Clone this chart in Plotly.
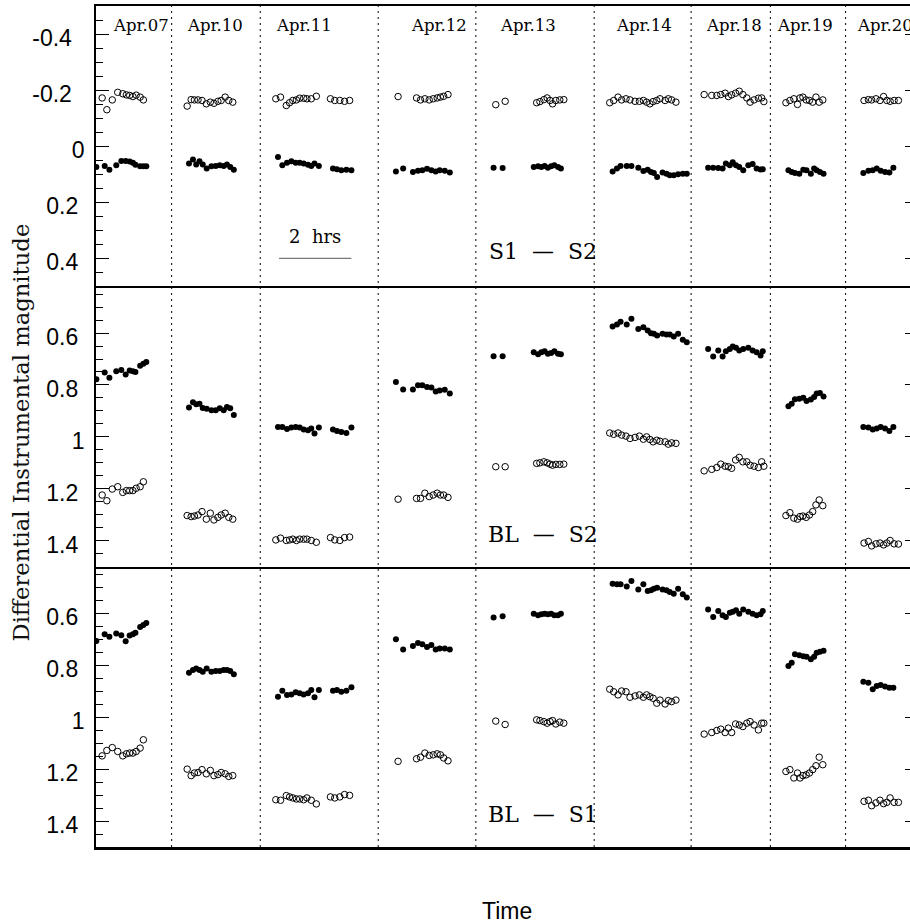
import plotly.graph_objects as go
from plotly.subplots import make_subplots

# ---------------------------------------------------------------------------
# Observing nights and their time windows (hours on a compressed time axis)
# ---------------------------------------------------------------------------
NIGHTS = ["Apr.07", "Apr.10", "Apr.11", "Apr.12", "Apr.13",
          "Apr.14", "Apr.18", "Apr.19", "Apr.20"]
NIGHT_LABEL_X = [1.245, 3.29, 5.74, 9.47, 11.95, 15.16, 17.63, 19.61, 21.81]
NIGHT_BOUNDS = [2.09, 4.54, 7.80, 10.50, 13.77, 16.45, 18.64, 20.72]

# Observation times, filled-symbol series (one list per night)
T_FILLED = [
    [0.01, 0.24, 0.37, 0.56, 0.70, 0.82, 0.93, 1.02, 1.09, 1.22, 1.31, 1.39],
    [2.57, 2.68, 2.77, 2.86, 2.95, 3.06, 3.19, 3.31, 3.42, 3.53, 3.62, 3.71, 3.81],
    [5.03, 5.15, 5.28, 5.40, 5.52, 5.63, 5.74, 5.86, 5.95, 6.04, 6.16, 6.55, 6.66, 6.78, 6.92, 7.06],
    [8.29, 8.49, 8.76, 8.90, 9.02, 9.15, 9.27, 9.39, 9.50, 9.64, 9.78],
    [10.99, 11.24, 12.10, 12.22, 12.31, 12.40, 12.49, 12.58, 12.67, 12.77, 12.85],
    [14.28, 14.40, 14.50, 14.67, 14.80, 14.99, 15.13, 15.25, 15.34, 15.42, 15.51, 15.66, 15.77, 15.86, 15.97, 16.09, 16.22, 16.33],
    [16.92, 17.06, 17.20, 17.32, 17.41, 17.52, 17.60, 17.69, 17.78, 17.89, 18.03, 18.15, 18.26, 18.37, 18.43],
    [19.14, 19.23, 19.32, 19.44, 19.55, 19.64, 19.76, 19.85, 19.92, 20.01, 20.11],
    [21.21, 21.35, 21.47, 21.58, 21.69, 21.81, 21.93, 22.04],
]

# Observation times, open-symbol series (one list per night)
T_OPEN = [
    [0.17, 0.30, 0.45, 0.60, 0.74, 0.84, 0.93, 1.02, 1.11, 1.22, 1.31],
    [2.52, 2.63, 2.72, 2.82, 2.93, 3.05, 3.16, 3.26, 3.37, 3.46, 3.57, 3.67, 3.78],
    [4.97, 5.10, 5.26, 5.35, 5.44, 5.54, 5.63, 5.74, 5.83, 5.95, 6.09, 6.48, 6.60, 6.74, 6.87, 7.01],
    [8.35, 8.86, 8.97, 9.09, 9.21, 9.32, 9.43, 9.52, 9.61, 9.73],
    [11.05, 11.31, 12.18, 12.27, 12.38, 12.47, 12.55, 12.62, 12.71, 12.82, 12.93],
    [14.20, 14.31, 14.43, 14.53, 14.65, 14.76, 14.90, 15.02, 15.13, 15.22, 15.31, 15.40, 15.50, 15.59, 15.73, 15.82, 15.91, 16.03],
    [16.81, 17.02, 17.16, 17.27, 17.39, 17.48, 17.57, 17.68, 17.78, 17.88, 17.99, 18.08, 18.19, 18.31, 18.40, 18.46],
    [19.07, 19.18, 19.29, 19.39, 19.46, 19.54, 19.63, 19.72, 19.81, 19.90, 19.99, 20.09],
    [21.23, 21.35, 21.44, 21.56, 21.67, 21.77, 21.86, 21.95, 22.06, 22.18],
]

# ---------------------------------------------------------------------------
# Differential magnitudes: S1 - S2
# ---------------------------------------------------------------------------
S1S2_FILLED = [
    [0.074, 0.071, 0.084, 0.068, 0.053, 0.053, 0.055, 0.059, 0.066, 0.072, 0.072, 0.072],
    [0.062, 0.048, 0.065, 0.054, 0.065, 0.080, 0.072, 0.071, 0.068, 0.071, 0.065, 0.074, 0.084],
    [0.039, 0.068, 0.059, 0.054, 0.059, 0.059, 0.062, 0.066, 0.071, 0.062, 0.071, 0.080, 0.082, 0.086, 0.084, 0.086],
    [0.090, 0.080, 0.092, 0.088, 0.086, 0.081, 0.086, 0.090, 0.086, 0.088, 0.094],
    [0.077, 0.078, 0.074, 0.072, 0.074, 0.071, 0.077, 0.072, 0.068, 0.074, 0.080],
    [0.090, 0.080, 0.071, 0.071, 0.071, 0.077, 0.089, 0.084, 0.092, 0.096, 0.110, 0.094, 0.098, 0.104, 0.104, 0.100, 0.098, 0.098],
    [0.077, 0.077, 0.078, 0.080, 0.062, 0.068, 0.057, 0.068, 0.074, 0.086, 0.068, 0.064, 0.080, 0.083, 0.082],
    [0.086, 0.092, 0.096, 0.098, 0.084, 0.086, 0.098, 0.080, 0.086, 0.092, 0.098],
    [0.096, 0.088, 0.086, 0.080, 0.088, 0.092, 0.094, 0.077],
]
S1S2_OPEN = [
    [-0.172, -0.130, -0.165, -0.192, -0.187, -0.183, -0.181, -0.177, -0.182, -0.175, -0.165],
    [-0.143, -0.166, -0.165, -0.165, -0.163, -0.151, -0.157, -0.153, -0.160, -0.163, -0.175, -0.163, -0.157],
    [-0.169, -0.175, -0.145, -0.155, -0.163, -0.165, -0.171, -0.171, -0.169, -0.169, -0.178, -0.169, -0.163, -0.163, -0.160, -0.163],
    [-0.177, -0.172, -0.165, -0.169, -0.165, -0.169, -0.172, -0.175, -0.178, -0.184],
    [-0.148, -0.160, -0.155, -0.159, -0.166, -0.172, -0.163, -0.151, -0.163, -0.165, -0.166],
    [-0.155, -0.163, -0.175, -0.165, -0.169, -0.165, -0.160, -0.160, -0.163, -0.157, -0.151, -0.159, -0.163, -0.169, -0.163, -0.169, -0.165, -0.157],
    [-0.184, -0.181, -0.181, -0.184, -0.189, -0.177, -0.183, -0.189, -0.196, -0.184, -0.172, -0.157, -0.165, -0.171, -0.172, -0.159],
    [-0.155, -0.163, -0.169, -0.149, -0.172, -0.175, -0.165, -0.163, -0.157, -0.175, -0.157, -0.165],
    [-0.163, -0.166, -0.165, -0.169, -0.163, -0.177, -0.163, -0.160, -0.163, -0.163],
]

# ---------------------------------------------------------------------------
# Differential magnitudes: BL - S2
# ---------------------------------------------------------------------------
BLS2_FILLED = [
    [0.778, 0.752, 0.772, 0.747, 0.742, 0.760, 0.744, 0.747, 0.750, 0.726, 0.718, 0.712],
    [0.887, 0.867, 0.874, 0.872, 0.889, 0.892, 0.897, 0.897, 0.890, 0.897, 0.885, 0.890, 0.916],
    [0.962, 0.962, 0.970, 0.964, 0.962, 0.964, 0.972, 0.974, 0.968, 0.987, 0.964, 0.972, 0.977, 0.981, 0.985, 0.964],
    [0.789, 0.817, 0.817, 0.801, 0.801, 0.808, 0.810, 0.825, 0.821, 0.818, 0.833],
    [0.689, 0.689, 0.674, 0.682, 0.674, 0.670, 0.680, 0.677, 0.670, 0.680, 0.682],
    [0.575, 0.567, 0.556, 0.567, 0.545, 0.584, 0.578, 0.590, 0.601, 0.603, 0.609, 0.603, 0.606, 0.606, 0.613, 0.603, 0.626, 0.635],
    [0.661, 0.690, 0.667, 0.690, 0.670, 0.661, 0.652, 0.657, 0.667, 0.661, 0.657, 0.667, 0.674, 0.686, 0.670],
    [0.882, 0.872, 0.855, 0.853, 0.849, 0.862, 0.856, 0.846, 0.833, 0.831, 0.844],
    [0.962, 0.964, 0.972, 0.968, 0.962, 0.968, 0.977, 0.962],
]
BLS2_OPEN = [
    [1.224, 1.246, 1.201, 1.192, 1.214, 1.207, 1.207, 1.207, 1.198, 1.192, 1.173],
    [1.303, 1.307, 1.305, 1.301, 1.288, 1.317, 1.294, 1.320, 1.310, 1.301, 1.294, 1.310, 1.317],
    [1.397, 1.390, 1.399, 1.397, 1.394, 1.399, 1.394, 1.394, 1.394, 1.399, 1.406, 1.388, 1.397, 1.399, 1.388, 1.386],
    [1.240, 1.237, 1.237, 1.217, 1.230, 1.224, 1.217, 1.224, 1.224, 1.233],
    [1.115, 1.115, 1.102, 1.100, 1.096, 1.100, 1.105, 1.109, 1.106, 1.106, 1.105],
    [0.985, 0.990, 0.985, 0.993, 0.997, 1.006, 1.002, 0.997, 1.009, 1.000, 1.010, 1.019, 1.013, 1.017, 1.019, 1.028, 1.023, 1.025],
    [1.131, 1.125, 1.118, 1.105, 1.113, 1.115, 1.121, 1.089, 1.079, 1.096, 1.096, 1.109, 1.113, 1.118, 1.096, 1.113],
    [1.303, 1.292, 1.313, 1.317, 1.307, 1.305, 1.310, 1.301, 1.288, 1.262, 1.243, 1.265],
    [1.409, 1.403, 1.420, 1.412, 1.409, 1.416, 1.409, 1.399, 1.412, 1.413],
]

# ---------------------------------------------------------------------------
# Differential magnitudes: BL - S1
# ---------------------------------------------------------------------------
BLS1_FILLED = [
    [0.706, 0.680, 0.690, 0.677, 0.684, 0.707, 0.685, 0.680, 0.675, 0.652, 0.645, 0.637],
    [0.829, 0.818, 0.812, 0.818, 0.825, 0.812, 0.825, 0.822, 0.822, 0.818, 0.818, 0.822, 0.834],
    [0.921, 0.898, 0.914, 0.912, 0.904, 0.908, 0.912, 0.908, 0.895, 0.923, 0.895, 0.898, 0.895, 0.902, 0.898, 0.885],
    [0.700, 0.739, 0.726, 0.714, 0.719, 0.729, 0.722, 0.739, 0.735, 0.735, 0.739],
    [0.616, 0.611, 0.601, 0.607, 0.603, 0.601, 0.603, 0.601, 0.607, 0.607, 0.601],
    [0.486, 0.488, 0.488, 0.496, 0.475, 0.508, 0.488, 0.514, 0.511, 0.505, 0.501, 0.508, 0.511, 0.518, 0.524, 0.505, 0.526, 0.539],
    [0.585, 0.614, 0.591, 0.607, 0.614, 0.598, 0.594, 0.588, 0.601, 0.585, 0.594, 0.601, 0.607, 0.603, 0.591],
    [0.803, 0.790, 0.757, 0.761, 0.765, 0.767, 0.777, 0.767, 0.752, 0.748, 0.744],
    [0.863, 0.867, 0.892, 0.880, 0.876, 0.882, 0.886, 0.886],
]
BLS1_OPEN = [
    [1.149, 1.128, 1.117, 1.132, 1.149, 1.141, 1.138, 1.138, 1.132, 1.119, 1.087],
    [1.200, 1.225, 1.215, 1.213, 1.202, 1.218, 1.205, 1.225, 1.221, 1.213, 1.218, 1.228, 1.225],
    [1.318, 1.320, 1.302, 1.307, 1.311, 1.315, 1.315, 1.318, 1.311, 1.320, 1.334, 1.307, 1.311, 1.307, 1.298, 1.301],
    [1.170, 1.160, 1.154, 1.138, 1.147, 1.145, 1.141, 1.145, 1.157, 1.168],
    [1.015, 1.028, 1.010, 1.013, 1.017, 1.023, 1.017, 1.013, 1.026, 1.019, 1.023],
    [0.892, 0.902, 0.914, 0.899, 0.902, 0.923, 0.918, 0.914, 0.923, 0.914, 0.921, 0.927, 0.946, 0.934, 0.949, 0.936, 0.940, 0.934],
    [1.065, 1.059, 1.051, 1.046, 1.059, 1.042, 1.059, 1.026, 1.030, 1.036, 1.023, 1.017, 1.030, 1.049, 1.023, 1.023],
    [1.209, 1.202, 1.234, 1.215, 1.234, 1.225, 1.222, 1.215, 1.202, 1.187, 1.154, 1.183],
    [1.324, 1.320, 1.341, 1.330, 1.320, 1.333, 1.328, 1.311, 1.328, 1.328],
]

PAIR_LABELS = ["S1\u00a0\u00a0\u2014\u00a0\u00a0S2", "BL\u00a0\u00a0\u2014\u00a0\u00a0S2", "BL\u00a0\u00a0\u2014\u00a0\u00a0S1"]

# Axis ticks (magnitudes, brighter upward)
TICKS_TOP = [-0.4, -0.2, 0, 0.2, 0.4]
TICKTEXT_TOP = ["-0.4\u00a0\u00a0", "-0.2\u00a0\u00a0", "0", "0.2\u00a0", "0.4\u00a0"]
TICKS_LOW = [0.6, 0.8, 1.0, 1.2, 1.4]
TICKTEXT_LOW = ["0.6\u00a0", "0.8\u00a0", "1", "1.2\u00a0", "1.4\u00a0"]
RANGE_TOP = [0.5, -0.5]
RANGE_LOW = [1.5, 0.42]
X_RANGE = [0, 22.5]

SCALE_BAR_START = 5.06   # hours
SCALE_BAR_HOURS = 2.0
SCALE_BAR_MAG = 0.4

SERIF = "DejaVu Serif, serif"
SANS = "Liberation Sans, Arial, sans-serif"


def flat(groups):
    return [v for g in groups for v in g]


fig = make_subplots(rows=3, cols=1, shared_xaxes=True, vertical_spacing=0)

t_filled = flat(T_FILLED)
t_open = flat(T_OPEN)
panels = [(S1S2_FILLED, S1S2_OPEN), (BLS2_FILLED, BLS2_OPEN), (BLS1_FILLED, BLS1_OPEN)]

for row, (filled, opened) in enumerate(panels, start=1):
    fig.add_trace(go.Scatter(
        x=t_filled, y=flat(filled), mode="markers", showlegend=False,
        hoverinfo="skip",
        marker=dict(symbol="circle", size=6, color="black",
                    line=dict(width=0))), row=row, col=1)
    fig.add_trace(go.Scatter(
        x=t_open, y=flat(opened), mode="markers", showlegend=False,
        hoverinfo="skip",
        marker=dict(symbol="circle-open", size=6.5, color="black",
                    line=dict(width=1, color="black"))), row=row, col=1)

tick_font = dict(family=SANS, size=23, color="black")
axis_specs = [(RANGE_TOP, TICKS_TOP, TICKTEXT_TOP),
              (RANGE_LOW, TICKS_LOW, TICKTEXT_LOW),
              (RANGE_LOW, TICKS_LOW, TICKTEXT_LOW)]

for row, (rng, vals, texts) in enumerate(axis_specs, start=1):
    fig.update_yaxes(
        row=row, col=1, range=rng, tickmode="array", tickvals=vals,
        ticktext=texts, ticks="inside", ticklen=13, tickwidth=1,
        tickcolor="black", showline=True, linewidth=1.5, linecolor="black",
        showgrid=False, zeroline=False, tickfont=tick_font,
        ticklabelstandoff=5, ticklabelshift=-4,
        minor=dict(tickmode="linear", tick0=0, dtick=0.05, ticks="inside",
                   ticklen=7, tickwidth=1, tickcolor="black", showgrid=False))
    # top panel draws its own top edge; every panel draws its lower edge once
    fig.update_xaxes(
        row=row, col=1, range=X_RANGE, showline=True,
        mirror=(row == 1), linewidth=(2.5 if row == 3 else 1.5),
        linecolor="black", ticks="", showticklabels=False,
        showgrid=False, zeroline=False)

# Short inward ticks along the right-hand frame
for idx, (rng, vals, _) in enumerate(axis_specs):
    ax_name = "yaxis%d" % (idx + 4)
    base = "y" if idx == 0 else "y%d" % (idx + 1)
    xa = "x" if idx == 0 else "x%d" % (idx + 1)
    fig.update_layout({ax_name: dict(
        overlaying=base, side="right", anchor=xa, range=rng,
        tickmode="array", tickvals=vals, ticks="inside", ticklen=5,
        tickwidth=1, tickcolor="black", showticklabels=False,
        showline=False, showgrid=False, zeroline=False)})
    fig.add_trace(go.Scatter(x=[None], y=[None], xaxis=xa,
                             yaxis="y%d" % (idx + 4), showlegend=False,
                             hoverinfo="skip", mode="markers"))

# Night separators
for b in NIGHT_BOUNDS:
    fig.add_shape(type="line", xref="x", yref="paper", x0=b, x1=b,
                  y0=0, y1=1, line=dict(color="black", width=1,
                                         dash="2px,4px"))

# Two-hour scale bar
fig.add_shape(type="line", xref="x", yref="y",
              x0=SCALE_BAR_START, x1=SCALE_BAR_START + SCALE_BAR_HOURS,
              y0=SCALE_BAR_MAG, y1=SCALE_BAR_MAG,
              line=dict(color="#555555", width=1))
fig.add_annotation(xref="x", yref="y",
                   x=SCALE_BAR_START + SCALE_BAR_HOURS / 2, y=0.321,
                   text="2\u00a0 hrs", showarrow=False,
                   xanchor="center", yanchor="middle",
                   font=dict(family=SERIF, size=18, color="black"))

# Night labels
for name, xpos in zip(NIGHTS, NIGHT_LABEL_X):
    fig.add_annotation(xref="x", yref="y", x=xpos, y=-0.43, text=name,
                       showarrow=False, xanchor="center", yanchor="middle",
                       font=dict(family=SERIF, size=16.5, color="black"))

# Pair labels
pair_y = [("y", 0.377), ("y2", 1.376), ("y3", 1.375)]
for text, (yr, yv), xr in zip(PAIR_LABELS, pair_y, ["x", "x2", "x3"]):
    fig.add_annotation(xref=xr, yref=yr, x=12.35, y=yv, text=text,
                       showarrow=False, xanchor="center", yanchor="middle",
                       font=dict(family=SERIF, size=22, color="black"))

# Axis titles
fig.add_annotation(xref="paper", yref="paper", x=-0.092, y=0.493,
                   text="Differential Instrumental magnitude",
                   textangle=-90, showarrow=False,
                   xanchor="center", yanchor="middle",
                   font=dict(family=SERIF, size=22.7, color="#111111"))
fig.add_annotation(xref="paper", yref="paper", x=0.505, y=-0.076,
                   text="Time", showarrow=False,
                   xanchor="center", yanchor="middle",
                   font=dict(family=SANS, size=23, color="black"))

fig.update_layout(
    width=910, height=924,
    margin=dict(l=96, r=0, t=6, b=77),
    plot_bgcolor="white", paper_bgcolor="white",
    showlegend=False,
)

fig.write_html("out.html")
